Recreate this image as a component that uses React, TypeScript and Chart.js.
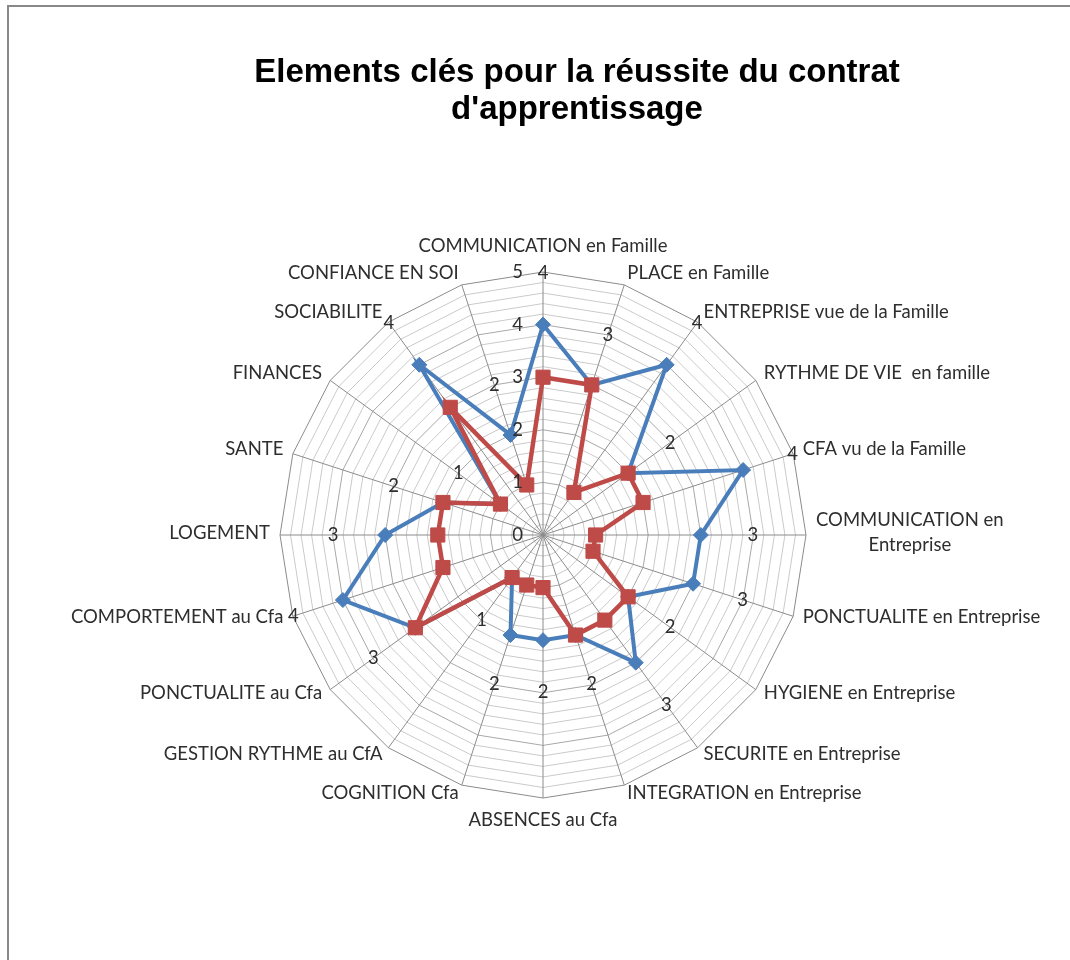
import React, { useEffect, useRef } from "react";
import { Chart, registerables } from "chart.js";

Chart.register(...registerables);

const titleLines = ["Elements clés pour la réussite du contrat", "d'apprentissage"];

const categories: string[][] = [
  ["COMMUNICATION en Famille"],
  ["PLACE en Famille"],
  ["ENTREPRISE vue de la Famille"],
  ["RYTHME DE VIE  en famille"],
  ["CFA vu de la Famille"],
  ["COMMUNICATION en", "Entreprise"],
  ["PONCTUALITE en Entreprise"],
  ["HYGIENE en Entreprise"],
  ["SECURITE en Entreprise"],
  ["INTEGRATION en Entreprise"],
  ["ABSENCES au Cfa"],
  ["COGNITION Cfa"],
  ["GESTION RYTHME au CfA"],
  ["PONCTUALITE au Cfa"],
  ["COMPORTEMENT au Cfa"],
  ["LOGEMENT"],
  ["SANTE"],
  ["FINANCES"],
  ["SOCIABILITE"],
  ["CONFIANCE EN SOI"],
];

const blueValues = [4, 3, 4, 2, 4, 3, 3, 2, 3, 2, 2, 2, 1, 3, 4, 3, 2, 1, 4, 2];
const redValues = [3, 3, 1, 2, 2, 1, 1, 2, 2, 2, 1, 1, 1, 3, 2, 2, 2, 1, 3, 1];
const axisTickLabels = [0, 1, 2, 3, 4, 5];

const BLUE = "#4a7ebb";
const RED = "#be4b48";
const TEXT = "#2e2e2e";
const LABEL_FONT = '18.5px Lato, "Open Sans", sans-serif';

const overlayPlugin = {
  id: "overlay",
  afterDraw(chart: any) {
    const ctx: CanvasRenderingContext2D = chart.ctx;
    const scale = chart.scales.r;
    ctx.save();

    // Title
    ctx.font = 'bold 33px "Liberation Sans", Arial, sans-serif';
    ctx.fillStyle = "#000";
    ctx.textAlign = "center";
    ctx.textBaseline = "middle";
    titleLines.forEach((t, i) => ctx.fillText(t, 577, 73 + i * 37));

    ctx.font = LABEL_FONT;
    ctx.fillStyle = TEXT;

    // Axis tick labels (left of first axis)
    ctx.textAlign = "right";
    axisTickLabels.forEach((v) => {
      const p = scale.getPointPositionForValue(0, v);
      ctx.fillText(String(v), p.x - 20, p.y);
    });

    // Category labels
    const R = scale.drawingArea;
    categories.forEach((lines, i) => {
      const a = scale.getIndexAngle(i);
      const s = Math.sin(a);
      const c = Math.cos(a);
      const p = scale.getPointPosition(i, R);
      let x = p.x;
      let y = p.y;
      const lh = 25;
      if (Math.abs(s) < 0.01) {
        ctx.textAlign = "center";
        y = c > 0 ? p.y - 26 : p.y + 22;
      } else {
        x = p.x + 10 * s;
        y = p.y - 10 * c - 2;
        ctx.textAlign = s > 0 ? "left" : "right";
      }
      if (lines.length > 1) {
        const widths = lines.map((l) => ctx.measureText(l).width);
        const maxW = Math.max(...widths);
        const blockLeft = s > 0 ? x : x - maxW;
        ctx.textAlign = "center";
        lines.forEach((l, k) => {
          ctx.fillText(l, blockLeft + maxW / 2, y + (k - (lines.length - 1) / 2) * lh);
        });
      } else {
        ctx.fillText(lines[0], x, y);
      }
    });

    // Data labels of the blue series
    ctx.textAlign = "center";
    blueValues.forEach((v, i) => {
      const d = scale.getDistanceFromCenterForValue(v) + 52;
      const p = scale.getPointPosition(i, d);
      ctx.fillText(String(v), p.x, p.y);
    });

    ctx.restore();
  },
};

export default function App() {
  const canvasRef = useRef<HTMLCanvasElement>(null);

  useEffect(() => {
    const canvas = canvasRef.current;
    if (!canvas) return;
    const chart = new Chart(canvas, {
      type: "radar",
      data: {
        labels: categories.map((c) => c.join(" ")),
        datasets: [
          {
            label: "Série 1",
            data: blueValues,
            borderColor: BLUE,
            backgroundColor: BLUE,
            borderWidth: 4,
            fill: false,
            tension: 0,
            pointStyle: "rectRot",
            pointRadius: 7.5,
            pointBorderWidth: 1,
            pointBackgroundColor: BLUE,
            pointBorderColor: BLUE,
            order: 2,
          },
          {
            label: "Série 2",
            data: redValues,
            borderColor: RED,
            backgroundColor: RED,
            borderWidth: 4.5,
            fill: false,
            tension: 0,
            pointStyle: "rect",
            pointRadius: 10,
            pointBorderWidth: 1,
            pointBackgroundColor: RED,
            pointBorderColor: RED,
            order: 1,
          },
        ],
      },
      options: {
        responsive: false,
        animation: false,
        devicePixelRatio: 1,
        layout: { padding: { left: 280, right: 264, top: 272, bottom: 162 } },
        plugins: {
          legend: { display: false },
          title: { display: false },
          tooltip: { enabled: false },
        },
        scales: {
          r: {
            min: 0,
            max: 5,
            ticks: { display: false, stepSize: 0.2 },
            pointLabels: { display: false },
            angleLines: { color: "#8c8c8c", lineWidth: 1 },
            grid: {
              lineWidth: 1,
              color: (ctx: any) => {
                const v = ctx.tick ? ctx.tick.value : 0;
                if (Math.abs(v - 5) < 1e-6) return "#8c8c8c";
                if (Math.abs(v - Math.round(v)) < 1e-6) return "#a8a8a8";
                return "#cacaca";
              },
            },
          },
        },
      },
      plugins: [overlayPlugin],
    } as any);
    return () => chart.destroy();
  }, []);

  return (
    <div
      style={{
        position: "fixed",
        left: 0,
        top: 0,
        width: 1070,
        height: 960,
        overflow: "hidden",
        background: "#fff",
      }}
    >
      <div
        style={{
          position: "absolute",
          left: 7,
          top: 5,
          width: 1100,
          height: 1000,
          borderTop: "2px solid #888",
          borderLeft: "2px solid #888",
        }}
      />
      <canvas
        ref={canvasRef}
        width={1070}
        height={960}
        style={{ position: "absolute", left: 0, top: 0, width: 1070, height: 960 }}
      />
    </div>
  );
}
